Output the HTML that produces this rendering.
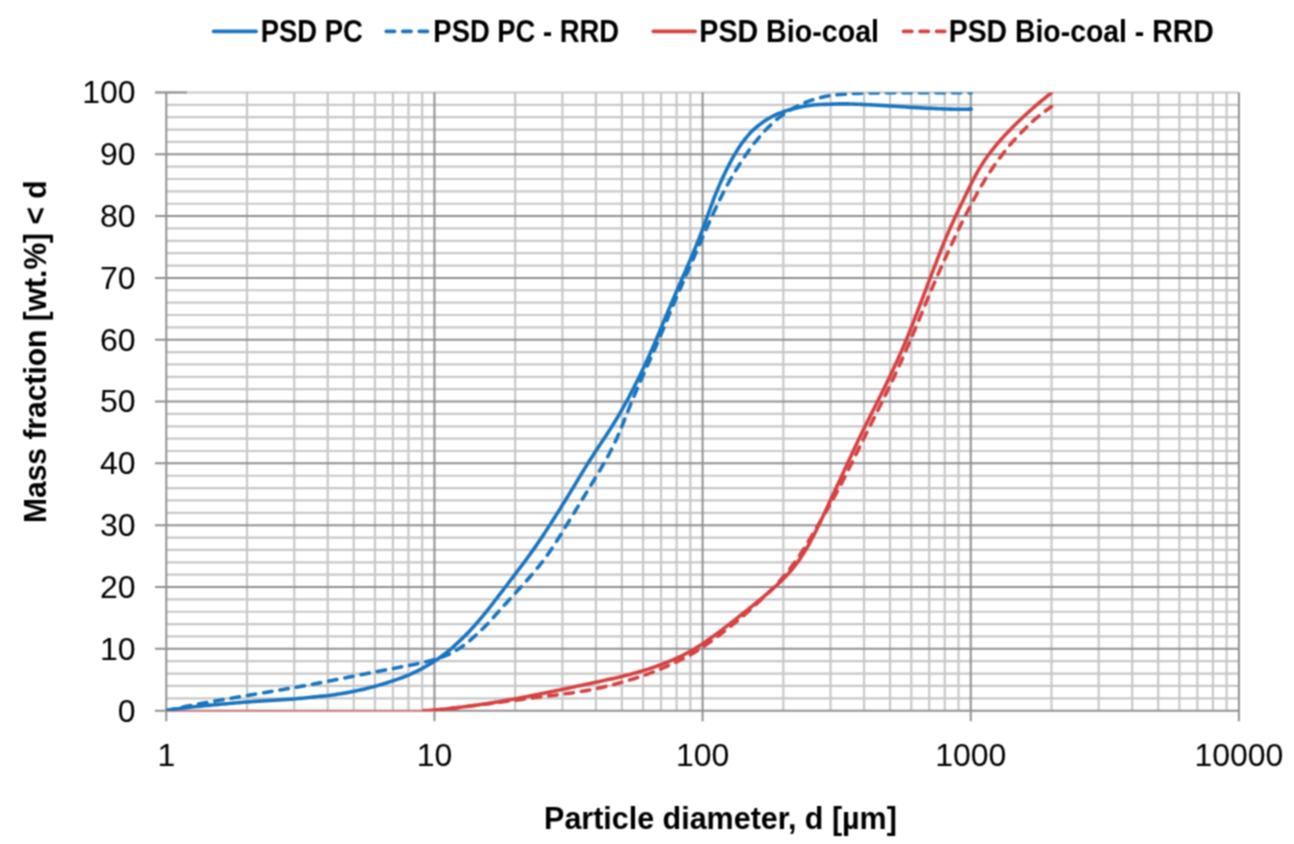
<!DOCTYPE html>
<html><head><meta charset="utf-8"><style>
html,body{margin:0;padding:0;background:#fff;}
body{width:1294px;height:844px;overflow:hidden;}
svg{display:block;}
text{font-family:"Liberation Sans",sans-serif;fill:#000;}
.n{font-size:32px;}
.b{font-size:32px;font-weight:bold;}
</style></head><body>
<svg width="1294" height="844" viewBox="0 0 1294 844">
<defs><filter id="soft" x="0" y="0" width="1294" height="844" filterUnits="userSpaceOnUse" color-interpolation-filters="sRGB"><feConvolveMatrix order="3" kernelMatrix="1 2 1 2 4 2 1 2 1" edgeMode="duplicate"/></filter><clipPath id="pa"><rect x="166.30" y="92.45" width="1072.60" height="618.30"/></clipPath></defs>
<rect width="1294" height="844" fill="#fff"/>
<g filter="url(#soft)">
<rect width="1294" height="844" fill="#fff"/>
<g>
<line x1="166.30" y1="698.29" x2="1238.90" y2="698.29" stroke="#c8c8c8" stroke-width="2.2"/>
<line x1="166.30" y1="685.92" x2="1238.90" y2="685.92" stroke="#c8c8c8" stroke-width="2.2"/>
<line x1="166.30" y1="673.56" x2="1238.90" y2="673.56" stroke="#c8c8c8" stroke-width="2.2"/>
<line x1="166.30" y1="661.19" x2="1238.90" y2="661.19" stroke="#c8c8c8" stroke-width="2.2"/>
<line x1="166.30" y1="636.47" x2="1238.90" y2="636.47" stroke="#c8c8c8" stroke-width="2.2"/>
<line x1="166.30" y1="624.10" x2="1238.90" y2="624.10" stroke="#c8c8c8" stroke-width="2.2"/>
<line x1="166.30" y1="611.74" x2="1238.90" y2="611.74" stroke="#c8c8c8" stroke-width="2.2"/>
<line x1="166.30" y1="599.37" x2="1238.90" y2="599.37" stroke="#c8c8c8" stroke-width="2.2"/>
<line x1="166.30" y1="574.65" x2="1238.90" y2="574.65" stroke="#c8c8c8" stroke-width="2.2"/>
<line x1="166.30" y1="562.28" x2="1238.90" y2="562.28" stroke="#c8c8c8" stroke-width="2.2"/>
<line x1="166.30" y1="549.92" x2="1238.90" y2="549.92" stroke="#c8c8c8" stroke-width="2.2"/>
<line x1="166.30" y1="537.55" x2="1238.90" y2="537.55" stroke="#c8c8c8" stroke-width="2.2"/>
<line x1="166.30" y1="512.83" x2="1238.90" y2="512.83" stroke="#c8c8c8" stroke-width="2.2"/>
<line x1="166.30" y1="500.46" x2="1238.90" y2="500.46" stroke="#c8c8c8" stroke-width="2.2"/>
<line x1="166.30" y1="488.10" x2="1238.90" y2="488.10" stroke="#c8c8c8" stroke-width="2.2"/>
<line x1="166.30" y1="475.73" x2="1238.90" y2="475.73" stroke="#c8c8c8" stroke-width="2.2"/>
<line x1="166.30" y1="451.01" x2="1238.90" y2="451.01" stroke="#c8c8c8" stroke-width="2.2"/>
<line x1="166.30" y1="438.64" x2="1238.90" y2="438.64" stroke="#c8c8c8" stroke-width="2.2"/>
<line x1="166.30" y1="426.28" x2="1238.90" y2="426.28" stroke="#c8c8c8" stroke-width="2.2"/>
<line x1="166.30" y1="413.91" x2="1238.90" y2="413.91" stroke="#c8c8c8" stroke-width="2.2"/>
<line x1="166.30" y1="389.19" x2="1238.90" y2="389.19" stroke="#c8c8c8" stroke-width="2.2"/>
<line x1="166.30" y1="376.82" x2="1238.90" y2="376.82" stroke="#c8c8c8" stroke-width="2.2"/>
<line x1="166.30" y1="364.46" x2="1238.90" y2="364.46" stroke="#c8c8c8" stroke-width="2.2"/>
<line x1="166.30" y1="352.09" x2="1238.90" y2="352.09" stroke="#c8c8c8" stroke-width="2.2"/>
<line x1="166.30" y1="327.37" x2="1238.90" y2="327.37" stroke="#c8c8c8" stroke-width="2.2"/>
<line x1="166.30" y1="315.00" x2="1238.90" y2="315.00" stroke="#c8c8c8" stroke-width="2.2"/>
<line x1="166.30" y1="302.64" x2="1238.90" y2="302.64" stroke="#c8c8c8" stroke-width="2.2"/>
<line x1="166.30" y1="290.27" x2="1238.90" y2="290.27" stroke="#c8c8c8" stroke-width="2.2"/>
<line x1="166.30" y1="265.55" x2="1238.90" y2="265.55" stroke="#c8c8c8" stroke-width="2.2"/>
<line x1="166.30" y1="253.18" x2="1238.90" y2="253.18" stroke="#c8c8c8" stroke-width="2.2"/>
<line x1="166.30" y1="240.82" x2="1238.90" y2="240.82" stroke="#c8c8c8" stroke-width="2.2"/>
<line x1="166.30" y1="228.45" x2="1238.90" y2="228.45" stroke="#c8c8c8" stroke-width="2.2"/>
<line x1="166.30" y1="203.73" x2="1238.90" y2="203.73" stroke="#c8c8c8" stroke-width="2.2"/>
<line x1="166.30" y1="191.36" x2="1238.90" y2="191.36" stroke="#c8c8c8" stroke-width="2.2"/>
<line x1="166.30" y1="179.00" x2="1238.90" y2="179.00" stroke="#c8c8c8" stroke-width="2.2"/>
<line x1="166.30" y1="166.63" x2="1238.90" y2="166.63" stroke="#c8c8c8" stroke-width="2.2"/>
<line x1="166.30" y1="141.91" x2="1238.90" y2="141.91" stroke="#c8c8c8" stroke-width="2.2"/>
<line x1="166.30" y1="129.54" x2="1238.90" y2="129.54" stroke="#c8c8c8" stroke-width="2.2"/>
<line x1="166.30" y1="117.18" x2="1238.90" y2="117.18" stroke="#c8c8c8" stroke-width="2.2"/>
<line x1="166.30" y1="104.81" x2="1238.90" y2="104.81" stroke="#c8c8c8" stroke-width="2.2"/>
<line x1="247.02" y1="92.45" x2="247.02" y2="710.65" stroke="#c8c8c8" stroke-width="2.2"/>
<line x1="294.24" y1="92.45" x2="294.24" y2="710.65" stroke="#c8c8c8" stroke-width="2.2"/>
<line x1="327.74" y1="92.45" x2="327.74" y2="710.65" stroke="#c8c8c8" stroke-width="2.2"/>
<line x1="353.73" y1="92.45" x2="353.73" y2="710.65" stroke="#c8c8c8" stroke-width="2.2"/>
<line x1="374.96" y1="92.45" x2="374.96" y2="710.65" stroke="#c8c8c8" stroke-width="2.2"/>
<line x1="392.91" y1="92.45" x2="392.91" y2="710.65" stroke="#c8c8c8" stroke-width="2.2"/>
<line x1="408.46" y1="92.45" x2="408.46" y2="710.65" stroke="#c8c8c8" stroke-width="2.2"/>
<line x1="422.18" y1="92.45" x2="422.18" y2="710.65" stroke="#c8c8c8" stroke-width="2.2"/>
<line x1="515.17" y1="92.45" x2="515.17" y2="710.65" stroke="#c8c8c8" stroke-width="2.2"/>
<line x1="562.39" y1="92.45" x2="562.39" y2="710.65" stroke="#c8c8c8" stroke-width="2.2"/>
<line x1="595.89" y1="92.45" x2="595.89" y2="710.65" stroke="#c8c8c8" stroke-width="2.2"/>
<line x1="621.88" y1="92.45" x2="621.88" y2="710.65" stroke="#c8c8c8" stroke-width="2.2"/>
<line x1="643.11" y1="92.45" x2="643.11" y2="710.65" stroke="#c8c8c8" stroke-width="2.2"/>
<line x1="661.06" y1="92.45" x2="661.06" y2="710.65" stroke="#c8c8c8" stroke-width="2.2"/>
<line x1="676.61" y1="92.45" x2="676.61" y2="710.65" stroke="#c8c8c8" stroke-width="2.2"/>
<line x1="690.33" y1="92.45" x2="690.33" y2="710.65" stroke="#c8c8c8" stroke-width="2.2"/>
<line x1="783.32" y1="92.45" x2="783.32" y2="710.65" stroke="#c8c8c8" stroke-width="2.2"/>
<line x1="830.54" y1="92.45" x2="830.54" y2="710.65" stroke="#c8c8c8" stroke-width="2.2"/>
<line x1="864.04" y1="92.45" x2="864.04" y2="710.65" stroke="#c8c8c8" stroke-width="2.2"/>
<line x1="890.03" y1="92.45" x2="890.03" y2="710.65" stroke="#c8c8c8" stroke-width="2.2"/>
<line x1="911.26" y1="92.45" x2="911.26" y2="710.65" stroke="#c8c8c8" stroke-width="2.2"/>
<line x1="929.21" y1="92.45" x2="929.21" y2="710.65" stroke="#c8c8c8" stroke-width="2.2"/>
<line x1="944.76" y1="92.45" x2="944.76" y2="710.65" stroke="#c8c8c8" stroke-width="2.2"/>
<line x1="958.48" y1="92.45" x2="958.48" y2="710.65" stroke="#c8c8c8" stroke-width="2.2"/>
<line x1="1051.47" y1="92.45" x2="1051.47" y2="710.65" stroke="#c8c8c8" stroke-width="2.2"/>
<line x1="1098.69" y1="92.45" x2="1098.69" y2="710.65" stroke="#c8c8c8" stroke-width="2.2"/>
<line x1="1132.19" y1="92.45" x2="1132.19" y2="710.65" stroke="#c8c8c8" stroke-width="2.2"/>
<line x1="1158.18" y1="92.45" x2="1158.18" y2="710.65" stroke="#c8c8c8" stroke-width="2.2"/>
<line x1="1179.41" y1="92.45" x2="1179.41" y2="710.65" stroke="#c8c8c8" stroke-width="2.2"/>
<line x1="1197.36" y1="92.45" x2="1197.36" y2="710.65" stroke="#c8c8c8" stroke-width="2.2"/>
<line x1="1212.91" y1="92.45" x2="1212.91" y2="710.65" stroke="#c8c8c8" stroke-width="2.2"/>
<line x1="1226.63" y1="92.45" x2="1226.63" y2="710.65" stroke="#c8c8c8" stroke-width="2.2"/>
<line x1="155.00" y1="648.83" x2="1238.90" y2="648.83" stroke="#909090" stroke-width="2.0"/>
<line x1="155.00" y1="587.01" x2="1238.90" y2="587.01" stroke="#909090" stroke-width="2.0"/>
<line x1="155.00" y1="525.19" x2="1238.90" y2="525.19" stroke="#909090" stroke-width="2.0"/>
<line x1="155.00" y1="463.37" x2="1238.90" y2="463.37" stroke="#909090" stroke-width="2.0"/>
<line x1="155.00" y1="401.55" x2="1238.90" y2="401.55" stroke="#909090" stroke-width="2.0"/>
<line x1="155.00" y1="339.73" x2="1238.90" y2="339.73" stroke="#909090" stroke-width="2.0"/>
<line x1="155.00" y1="277.91" x2="1238.90" y2="277.91" stroke="#909090" stroke-width="2.0"/>
<line x1="155.00" y1="216.09" x2="1238.90" y2="216.09" stroke="#909090" stroke-width="2.0"/>
<line x1="155.00" y1="154.27" x2="1238.90" y2="154.27" stroke="#909090" stroke-width="2.0"/>
<line x1="155.00" y1="92.45" x2="1238.90" y2="92.45" stroke="#c8c8c8" stroke-width="2.0"/>
<line x1="155.00" y1="92.45" x2="187" y2="92.45" stroke="#909090" stroke-width="2.0"/>
<line x1="434.45" y1="92.45" x2="434.45" y2="721.35" stroke="#909090" stroke-width="2.0"/>
<line x1="702.60" y1="92.45" x2="702.60" y2="721.35" stroke="#909090" stroke-width="2.0"/>
<line x1="970.75" y1="92.45" x2="970.75" y2="721.35" stroke="#909090" stroke-width="2.0"/>
<line x1="1238.90" y1="92.45" x2="1238.90" y2="721.35" stroke="#909090" stroke-width="2.0"/>
<line x1="166.30" y1="92.45" x2="166.30" y2="721.35" stroke="#909090" stroke-width="2.0"/>
<line x1="155.00" y1="710.65" x2="1238.90" y2="710.65" stroke="#909090" stroke-width="2.0"/>
<line x1="166.3" y1="710.95" x2="432" y2="710.95" stroke="#d08888" stroke-width="2.2"/>
</g>
<g clip-path="url(#pa)"><g transform="translate(0,0.35)">
<path d="M166.30,710.30 L168.29,709.87 L170.27,709.43 L172.23,709.00 L174.19,708.57 L176.16,708.14 L178.14,707.70 L180.14,707.27 L182.17,706.84 L184.24,706.41 L186.36,705.98 L188.25,705.61 L190.15,705.24 L192.08,704.87 L194.03,704.50 L196.00,704.13 L197.99,703.77 L200.00,703.40 L202.04,703.03 L204.09,702.66 L206.17,702.29 L208.27,701.91 L210.39,701.54 L212.53,701.15 L214.44,700.81 L216.40,700.46 L218.39,700.11 L220.43,699.75 L222.48,699.39 L224.56,699.03 L226.66,698.66 L228.76,698.30 L230.86,697.93 L232.96,697.57 L235.05,697.21 L237.12,696.86 L239.16,696.51 L241.18,696.16 L243.15,695.82 L245.09,695.49 L246.98,695.17 L249.18,694.80 L251.35,694.44 L253.47,694.09 L255.57,693.74 L257.63,693.41 L259.67,693.07 L261.70,692.74 L263.70,692.41 L265.70,692.08 L267.69,691.76 L269.69,691.42 L271.68,691.09 L273.72,690.74 L275.74,690.40 L277.73,690.07 L279.70,689.73 L281.67,689.40 L283.63,689.06 L285.61,688.72 L287.59,688.38 L289.60,688.03 L291.63,687.67 L293.70,687.30 L295.69,686.95 L297.78,686.58 L299.94,686.19 L302.14,685.79 L304.37,685.39 L306.60,684.98 L308.80,684.58 L310.94,684.19 L313.01,683.80 L314.97,683.44 L316.80,683.10 L318.48,682.78 L319.98,682.50 L322.63,681.98 L324.77,681.55 L327.40,681.02 L328.89,680.73 L330.54,680.40 L332.35,680.05 L334.28,679.67 L336.31,679.27 L338.42,678.86 L340.57,678.44 L342.76,678.01 L344.94,677.59 L347.10,677.16 L349.21,676.75 L351.25,676.35 L353.19,675.96 L355.39,675.53 L357.56,675.10 L359.71,674.67 L361.84,674.25 L363.94,673.83 L366.03,673.41 L368.10,673.00 L370.16,672.59 L372.20,672.18 L374.24,671.78 L376.32,671.37 L378.38,670.97 L380.43,670.57 L382.47,670.17 L384.48,669.77 L386.48,669.39 L388.47,669.00 L390.44,668.62 L392.39,668.24 L394.70,667.80 L396.99,667.37 L399.25,666.94 L401.49,666.52 L403.71,666.10 L405.92,665.68 L408.10,665.25 L410.15,664.85 L412.18,664.45 L414.19,664.05 L416.18,663.65 L418.16,663.24 L420.11,662.82 L422.04,662.39 L424.10,661.91 L426.12,661.43 L428.12,660.93 L430.10,660.41 L432.10,659.86 L434.14,659.26 L436.05,658.66 L437.99,658.04 L439.96,657.39 L441.92,656.71 L443.86,655.99 L445.77,655.24 L447.62,654.45 L449.60,653.53 L451.54,652.56 L453.43,651.55 L455.30,650.50 L457.14,649.40 L458.96,648.26 L460.75,647.09 L462.47,645.91 L464.16,644.68 L465.88,643.38 L467.65,641.97 L469.51,640.44 L470.98,639.20 L472.52,637.85 L474.13,636.42 L475.77,634.92 L477.45,633.37 L479.12,631.79 L480.79,630.20 L482.43,628.62 L484.02,627.06 L485.55,625.55 L486.99,624.09 L488.56,622.46 L490.07,620.85 L491.51,619.26 L492.91,617.69 L494.28,616.13 L495.65,614.57 L497.02,613.02 L498.41,611.45 L499.79,609.93 L501.15,608.40 L502.51,606.89 L503.86,605.37 L505.22,603.86 L506.58,602.34 L507.95,600.82 L509.32,599.30 L510.74,597.75 L512.17,596.20 L513.60,594.64 L515.04,593.09 L516.48,591.53 L517.92,589.97 L519.35,588.40 L520.77,586.84 L522.19,585.26 L523.61,583.69 L525.03,582.11 L526.44,580.53 L527.84,578.94 L529.24,577.36 L530.62,575.77 L531.98,574.18 L533.29,572.63 L534.60,571.08 L535.90,569.53 L537.19,567.98 L538.46,566.42 L539.71,564.86 L540.95,563.31 L542.16,561.74 L543.46,560.03 L544.74,558.31 L546.00,556.59 L547.23,554.86 L548.45,553.13 L549.65,551.40 L550.85,549.65 L552.02,547.92 L553.18,546.17 L554.31,544.42 L555.44,542.66 L556.56,540.90 L557.68,539.14 L558.79,537.37 L559.90,535.61 L560.99,533.85 L562.08,532.08 L563.17,530.30 L564.25,528.53 L565.34,526.75 L566.43,524.98 L567.53,523.19 L568.63,521.41 L569.74,519.62 L570.85,517.83 L571.96,516.04 L573.06,514.25 L574.15,512.47 L575.22,510.70 L576.29,508.94 L577.36,507.18 L578.42,505.42 L579.48,503.66 L580.54,501.90 L581.61,500.15 L582.68,498.39 L583.75,496.63 L584.82,494.88 L585.89,493.12 L586.96,491.37 L588.03,489.61 L589.10,487.86 L590.16,486.11 L591.21,484.36 L592.27,482.61 L593.32,480.87 L594.37,479.12 L595.42,477.36 L596.47,475.60 L597.54,473.81 L598.61,472.02 L599.68,470.23 L600.75,468.43 L601.81,466.63 L602.86,464.83 L603.90,463.03 L604.90,461.26 L605.90,459.49 L606.89,457.73 L607.86,455.96 L608.82,454.19 L609.77,452.42 L610.69,450.64 L611.73,448.60 L612.75,446.55 L613.74,444.50 L614.72,442.45 L615.68,440.39 L616.62,438.33 L617.53,436.29 L618.41,434.24 L619.28,432.19 L620.14,430.14 L620.99,428.08 L621.84,426.02 L622.68,423.97 L623.51,421.92 L624.33,419.86 L625.16,417.80 L625.98,415.74 L626.80,413.68 L627.62,411.62 L628.45,409.55 L629.27,407.48 L630.09,405.41 L630.92,403.35 L631.76,401.28 L632.61,399.21 L633.46,397.14 L634.33,395.07 L635.19,393.00 L636.07,390.94 L636.95,388.88 L637.83,386.83 L638.72,384.80 L639.61,382.76 L640.51,380.73 L641.42,378.69 L642.32,376.65 L643.24,374.59 L644.16,372.52 L645.09,370.45 L646.02,368.38 L646.95,366.31 L647.87,364.23 L648.80,362.15 L649.73,360.06 L650.66,357.97 L651.59,355.89 L652.51,353.80 L653.43,351.72 L654.33,349.68 L655.22,347.63 L656.10,345.60 L656.98,343.56 L657.86,341.52 L658.73,339.47 L659.60,337.42 L660.46,335.36 L661.32,333.31 L662.18,331.25 L663.03,329.19 L663.88,327.14 L664.73,325.08 L665.57,323.03 L666.41,320.98 L667.25,318.93 L668.09,316.87 L668.94,314.82 L669.80,312.75 L670.67,310.68 L671.54,308.60 L672.42,306.53 L673.30,304.46 L674.18,302.39 L675.06,300.32 L675.95,298.26 L676.84,296.19 L677.73,294.13 L678.63,292.07 L679.52,290.01 L680.41,287.95 L681.30,285.90 L682.20,283.85 L683.09,281.80 L683.99,279.75 L684.89,277.69 L685.79,275.63 L686.69,273.57 L687.60,271.50 L688.50,269.43 L689.41,267.37 L690.31,265.30 L691.21,263.25 L692.10,261.20 L692.99,259.15 L693.88,257.09 L694.78,255.04 L695.67,252.99 L696.56,250.92 L697.46,248.85 L698.35,246.78 L699.24,244.71 L700.14,242.64 L701.04,240.57 L701.94,238.51 L702.84,236.46 L703.75,234.40 L704.66,232.34 L705.56,230.29 L706.48,228.23 L707.39,226.18 L708.30,224.12 L709.22,222.06 L710.14,220.01 L711.06,217.95 L711.99,215.89 L712.94,213.82 L713.90,211.74 L714.86,209.66 L715.83,207.58 L716.80,205.51 L717.79,203.44 L718.77,201.39 L719.76,199.35 L720.76,197.31 L721.77,195.28 L722.80,193.24 L723.84,191.21 L724.77,189.44 L725.71,187.67 L726.66,185.90 L727.62,184.13 L728.59,182.36 L729.58,180.60 L730.58,178.84 L731.61,177.06 L732.65,175.28 L733.70,173.51 L734.77,171.73 L735.85,169.96 L736.94,168.19 L738.04,166.43 L739.18,164.63 L740.32,162.82 L741.48,161.02 L742.65,159.23 L743.83,157.43 L745.04,155.65 L746.26,153.87 L747.51,152.08 L748.78,150.30 L750.06,148.52 L751.36,146.75 L752.68,144.99 L754.03,143.24 L755.40,141.50 L756.64,139.96 L757.90,138.43 L759.16,136.91 L760.45,135.40 L761.76,133.89 L763.11,132.39 L764.49,130.90 L765.92,129.41 L767.33,127.97 L768.76,126.53 L770.23,125.09 L771.72,123.65 L773.25,122.23 L774.82,120.82 L776.43,119.44 L778.09,118.08 L779.79,116.76 L781.37,115.59 L783.01,114.42 L784.70,113.26 L786.44,112.11 L788.21,110.98 L789.99,109.88 L791.78,108.81 L793.56,107.78 L795.32,106.80 L797.05,105.87 L798.74,105.01 L800.68,104.07 L802.59,103.20 L804.48,102.41 L806.36,101.66 L808.23,100.97 L810.12,100.31 L812.02,99.68 L813.96,99.06 L815.96,98.47 L817.96,97.91 L819.99,97.38 L822.02,96.89 L824.07,96.43 L826.14,96.01 L828.21,95.62 L830.30,95.26 L832.47,94.93 L834.68,94.65 L836.90,94.41 L839.13,94.20 L841.37,94.02 L843.59,93.86 L845.78,93.70 L847.95,93.55 L850.22,93.40 L852.47,93.27 L854.69,93.16 L856.90,93.07 L859.11,92.99 L861.34,92.91 L863.58,92.84 L865.60,92.77 L867.62,92.72 L869.64,92.67 L871.66,92.63 L873.70,92.59 L875.77,92.56 L877.86,92.53 L880.00,92.50 L881.92,92.47 L883.87,92.45 L885.85,92.43 L887.85,92.41 L889.87,92.39 L891.90,92.38 L893.94,92.37 L895.97,92.36 L897.99,92.35 L900.00,92.33 L902.00,92.32 L904.00,92.31 L906.00,92.31 L908.00,92.30 L910.00,92.29 L912.00,92.29 L914.00,92.28 L916.00,92.28 L918.00,92.28 L920.00,92.27 L922.00,92.27 L924.00,92.27 L926.00,92.27 L928.00,92.27 L930.00,92.27 L932.00,92.27 L934.00,92.27 L936.00,92.28 L938.00,92.28 L940.00,92.28 L942.03,92.28 L944.09,92.28 L946.18,92.28 L948.27,92.28 L950.35,92.29 L952.41,92.29 L954.42,92.29 L956.36,92.29 L958.23,92.29 L960.00,92.30 L962.47,92.30 L964.75,92.30 L966.93,92.30 L969.09,92.30 L971.30,92.30" fill="none" stroke="#1a75bf" stroke-width="3.6" stroke-linecap="round" stroke-linejoin="round" stroke-dasharray="8.4 8.1"/>
<path d="M166.30,710.30 L168.29,710.00 L170.27,709.70 L172.23,709.39 L174.19,709.09 L176.15,708.78 L178.13,708.48 L180.13,708.18 L182.16,707.89 L184.23,707.61 L186.35,707.33 L188.23,707.10 L190.14,706.87 L192.07,706.65 L194.02,706.43 L195.99,706.22 L197.98,706.01 L199.99,705.81 L202.03,705.61 L204.08,705.40 L206.16,705.20 L208.26,705.00 L210.38,704.80 L212.52,704.60 L214.43,704.42 L216.39,704.24 L218.39,704.06 L220.42,703.87 L222.48,703.69 L224.56,703.51 L226.65,703.32 L228.76,703.14 L230.86,702.97 L232.96,702.79 L235.05,702.62 L237.12,702.45 L239.16,702.28 L241.18,702.12 L243.16,701.96 L245.09,701.81 L246.98,701.67 L249.19,701.50 L251.35,701.35 L253.48,701.20 L255.57,701.06 L257.64,700.92 L259.68,700.78 L261.70,700.65 L263.71,700.53 L265.70,700.40 L267.70,700.27 L269.69,700.14 L271.69,700.01 L273.73,699.88 L275.74,699.75 L277.73,699.63 L279.71,699.52 L281.68,699.40 L283.65,699.28 L285.62,699.16 L287.61,699.03 L289.62,698.89 L291.65,698.74 L293.72,698.58 L295.70,698.41 L297.79,698.23 L299.94,698.03 L302.14,697.83 L304.36,697.61 L306.58,697.39 L308.77,697.17 L310.91,696.96 L312.96,696.75 L314.92,696.55 L316.75,696.36 L318.43,696.20 L319.93,696.05 L322.61,695.81 L324.77,695.63 L327.43,695.32 L328.92,695.13 L330.59,694.90 L332.40,694.63 L334.34,694.35 L336.38,694.04 L338.50,693.71 L340.66,693.36 L342.85,693.00 L345.04,692.63 L347.20,692.26 L349.31,691.88 L351.35,691.50 L353.28,691.12 L355.47,690.67 L357.63,690.22 L359.76,689.75 L361.87,689.27 L363.96,688.78 L366.02,688.28 L368.07,687.77 L370.10,687.25 L372.12,686.72 L374.13,686.18 L376.22,685.61 L378.30,685.02 L380.35,684.42 L382.39,683.82 L384.41,683.20 L386.42,682.57 L388.41,681.94 L390.38,681.29 L392.33,680.65 L394.39,679.95 L396.43,679.26 L398.45,678.55 L400.45,677.84 L402.43,677.12 L404.39,676.37 L406.32,675.61 L408.23,674.82 L410.26,673.94 L412.26,673.04 L414.23,672.12 L416.17,671.18 L418.09,670.22 L419.99,669.24 L421.87,668.25 L423.65,667.29 L425.38,666.33 L427.10,665.35 L428.80,664.35 L430.50,663.32 L432.22,662.25 L433.95,661.14 L435.66,660.02 L437.39,658.85 L439.14,657.65 L440.89,656.41 L442.63,655.15 L444.35,653.88 L446.04,652.59 L447.67,651.31 L449.40,649.89 L451.08,648.46 L452.73,647.01 L454.35,645.54 L455.96,644.07 L457.55,642.58 L459.14,641.08 L460.74,639.56 L462.35,637.99 L463.96,636.41 L465.54,634.83 L467.07,633.28 L468.52,631.79 L469.87,630.39 L471.46,628.70 L472.87,627.15 L474.27,625.58 L475.82,623.82 L477.01,622.45 L478.28,620.99 L479.61,619.44 L480.99,617.84 L482.37,616.20 L483.75,614.55 L485.10,612.92 L486.40,611.33 L487.78,609.60 L489.14,607.87 L490.48,606.13 L491.80,604.40 L493.12,602.66 L494.45,600.91 L495.79,599.17 L497.16,597.39 L498.54,595.60 L499.92,593.81 L501.31,592.01 L502.69,590.22 L504.06,588.43 L505.42,586.65 L506.75,584.90 L508.07,583.16 L509.38,581.43 L510.68,579.69 L511.99,577.96 L513.31,576.22 L514.63,574.47 L515.98,572.69 L517.35,570.91 L518.72,569.13 L520.10,567.34 L521.46,565.55 L522.82,563.76 L524.16,561.96 L525.47,560.19 L526.77,558.41 L528.07,556.63 L529.35,554.85 L530.63,553.06 L531.90,551.28 L533.16,549.50 L534.40,547.75 L535.63,546.00 L536.86,544.24 L538.08,542.49 L539.29,540.74 L540.48,538.98 L541.67,537.22 L542.83,535.49 L543.97,533.75 L545.10,532.01 L546.22,530.27 L547.34,528.52 L548.46,526.78 L549.59,525.02 L550.73,523.25 L551.87,521.46 L553.01,519.68 L554.14,517.89 L555.28,516.10 L556.41,514.31 L557.54,512.52 L558.65,510.76 L559.76,508.99 L560.86,507.23 L561.96,505.47 L563.06,503.70 L564.16,501.94 L565.25,500.17 L566.35,498.39 L567.44,496.62 L568.53,494.83 L569.62,493.05 L570.70,491.27 L571.78,489.49 L572.86,487.71 L573.92,485.96 L574.96,484.22 L576.01,482.47 L577.05,480.73 L578.10,478.99 L579.15,477.24 L580.20,475.50 L581.27,473.75 L582.34,472.00 L583.41,470.26 L584.48,468.51 L585.57,466.76 L586.66,465.01 L587.75,463.26 L588.88,461.47 L590.02,459.67 L591.17,457.87 L592.32,456.07 L593.48,454.28 L594.63,452.48 L595.79,450.70 L596.95,448.92 L598.11,447.16 L599.27,445.40 L600.44,443.64 L601.61,441.88 L602.77,440.12 L603.93,438.35 L605.09,436.59 L606.25,434.83 L607.42,433.07 L608.57,431.30 L609.72,429.54 L610.87,427.77 L611.99,425.99 L613.10,424.23 L614.20,422.46 L615.30,420.69 L616.38,418.91 L617.45,417.13 L618.52,415.36 L619.57,413.58 L620.59,411.82 L621.60,410.07 L622.60,408.31 L623.60,406.55 L624.58,404.79 L625.55,403.03 L626.52,401.26 L627.62,399.21 L628.72,397.15 L629.80,395.09 L630.87,393.02 L631.93,390.96 L632.99,388.90 L634.03,386.86 L635.06,384.82 L636.09,382.79 L637.11,380.75 L638.12,378.71 L639.12,376.66 L640.13,374.60 L641.13,372.53 L642.12,370.46 L643.10,368.38 L644.08,366.31 L645.05,364.23 L646.02,362.14 L646.99,360.05 L647.94,357.96 L648.89,355.87 L649.84,353.78 L650.77,351.70 L651.67,349.66 L652.56,347.64 L653.44,345.61 L654.32,343.59 L655.20,341.56 L656.07,339.53 L656.95,337.47 L657.82,335.41 L658.69,333.34 L659.55,331.27 L660.42,329.20 L661.28,327.14 L662.13,325.08 L662.98,323.02 L663.83,320.97 L664.68,318.91 L665.54,316.85 L666.40,314.80 L667.27,312.73 L668.15,310.66 L669.03,308.60 L669.92,306.53 L670.80,304.46 L671.69,302.39 L672.57,300.33 L673.46,298.26 L674.35,296.19 L675.23,294.13 L676.12,292.07 L677.01,290.00 L677.89,287.95 L678.78,285.90 L679.66,283.86 L680.55,281.81 L681.44,279.76 L682.33,277.71 L683.22,275.65 L684.13,273.58 L685.03,271.51 L685.93,269.44 L686.83,267.38 L687.73,265.31 L688.61,263.26 L689.50,261.21 L690.38,259.16 L691.26,257.11 L692.13,255.06 L693.00,253.00 L693.86,250.93 L694.72,248.86 L695.57,246.78 L696.42,244.71 L697.26,242.63 L698.09,240.56 L698.91,238.50 L699.72,236.44 L700.52,234.38 L701.32,232.32 L702.10,230.26 L702.89,228.20 L703.65,226.15 L704.41,224.10 L705.16,222.05 L705.91,220.01 L706.66,217.96 L707.41,215.90 L708.16,213.83 L708.90,211.76 L709.65,209.68 L710.39,207.60 L711.15,205.53 L711.91,203.46 L712.68,201.41 L713.45,199.36 L714.23,197.32 L715.02,195.29 L715.83,193.25 L716.66,191.21 L717.51,189.15 L718.39,187.09 L719.28,185.03 L720.18,182.97 L721.10,180.92 L722.04,178.86 L723.00,176.76 L723.98,174.67 L724.98,172.57 L725.99,170.47 L727.02,168.38 L728.07,166.30 L729.00,164.50 L729.93,162.70 L730.88,160.90 L731.85,159.10 L732.83,157.32 L733.84,155.54 L734.88,153.78 L735.95,152.00 L737.03,150.22 L738.13,148.46 L739.27,146.70 L740.43,144.96 L741.65,143.23 L742.91,141.51 L744.11,139.94 L745.33,138.38 L746.59,136.82 L747.88,135.27 L749.21,133.74 L750.60,132.23 L752.05,130.75 L753.56,129.31 L755.12,127.91 L756.78,126.51 L758.50,125.12 L760.27,123.76 L762.08,122.43 L763.91,121.15 L765.73,119.93 L767.54,118.78 L769.30,117.71 L771.23,116.62 L773.11,115.63 L774.97,114.72 L776.86,113.88 L778.81,113.07 L780.86,112.28 L783.05,111.50 L784.78,110.90 L786.61,110.31 L788.50,109.73 L790.46,109.15 L792.46,108.59 L794.51,108.05 L796.57,107.53 L798.65,107.04 L800.74,106.58 L802.81,106.15 L804.86,105.77 L806.87,105.43 L809.02,105.11 L811.19,104.85 L813.38,104.64 L815.57,104.47 L817.76,104.33 L819.95,104.22 L822.11,104.13 L824.25,104.05 L826.36,103.98 L828.42,103.90 L830.44,103.83 L832.75,103.74 L835.02,103.67 L837.23,103.61 L839.41,103.57 L841.57,103.55 L843.70,103.54 L845.82,103.54 L847.95,103.56 L850.19,103.60 L852.36,103.66 L854.49,103.75 L856.64,103.84 L858.84,103.95 L861.14,104.06 L863.59,104.18 L865.43,104.27 L867.36,104.36 L869.37,104.46 L871.44,104.56 L873.55,104.67 L875.70,104.78 L877.87,104.90 L880.05,105.01 L882.21,105.13 L884.35,105.25 L886.46,105.37 L888.51,105.48 L890.49,105.60 L892.74,105.74 L894.95,105.88 L897.13,106.02 L899.29,106.16 L901.43,106.31 L903.54,106.45 L905.63,106.59 L907.71,106.73 L909.76,106.86 L911.81,106.99 L914.12,107.13 L916.41,107.26 L918.67,107.39 L920.90,107.51 L923.11,107.63 L925.30,107.74 L927.47,107.85 L929.61,107.96 L931.82,108.07 L934.00,108.18 L936.15,108.28 L938.28,108.38 L940.39,108.47 L942.50,108.56 L944.60,108.63 L946.95,108.69 L949.29,108.75 L951.62,108.80 L953.93,108.83 L956.22,108.86 L958.50,108.88 L960.66,108.88 L962.80,108.88 L964.93,108.86 L967.05,108.84 L969.17,108.82 L971.30,108.80" fill="none" stroke="#1a75bf" stroke-width="3.6" stroke-linecap="round" stroke-linejoin="round"/>
<path d="M434.20,710.30 L436.20,710.05 L438.19,709.80 L440.17,709.56 L442.14,709.31 L444.12,709.07 L446.11,708.82 L448.10,708.57 L450.11,708.32 L452.14,708.06 L454.19,707.80 L456.27,707.54 L458.20,707.29 L460.15,707.04 L462.11,706.78 L464.08,706.52 L466.07,706.26 L468.06,705.99 L470.08,705.73 L472.11,705.46 L474.15,705.19 L476.22,704.92 L478.30,704.64 L480.39,704.37 L482.51,704.09 L484.46,703.84 L486.44,703.59 L488.45,703.33 L490.49,703.06 L492.55,702.80 L494.63,702.54 L496.71,702.27 L498.80,702.00 L500.89,701.74 L502.98,701.47 L505.05,701.20 L507.12,700.94 L509.16,700.68 L511.17,700.42 L513.16,700.16 L515.11,699.91 L517.26,699.63 L519.39,699.36 L521.50,699.08 L523.60,698.81 L525.69,698.53 L527.75,698.26 L529.80,697.99 L531.84,697.73 L533.85,697.46 L535.84,697.20 L537.81,696.95 L539.76,696.69 L541.69,696.44 L543.88,696.16 L546.02,695.89 L548.14,695.62 L550.24,695.36 L552.31,695.10 L554.36,694.84 L556.39,694.58 L558.40,694.33 L560.40,694.07 L562.39,693.80 L564.67,693.50 L566.91,693.20 L569.13,692.91 L571.33,692.61 L573.51,692.31 L575.69,691.99 L577.86,691.67 L580.03,691.32 L582.12,690.98 L584.18,690.63 L586.21,690.28 L588.24,689.91 L590.29,689.53 L592.38,689.12 L594.54,688.67 L596.79,688.19 L598.71,687.76 L600.71,687.31 L602.76,686.83 L604.86,686.33 L606.99,685.80 L609.15,685.27 L611.31,684.72 L613.47,684.16 L615.62,683.60 L617.75,683.03 L619.83,682.46 L621.86,681.89 L623.91,681.32 L625.94,680.73 L627.96,680.14 L629.96,679.54 L631.95,678.93 L633.93,678.32 L635.88,677.70 L637.82,677.07 L639.73,676.44 L641.63,675.81 L643.50,675.17 L645.56,674.45 L647.59,673.72 L649.60,672.99 L651.58,672.25 L653.54,671.51 L655.48,670.75 L657.40,669.99 L659.30,669.22 L661.19,668.44 L663.18,667.60 L665.15,666.75 L667.10,665.89 L669.02,665.01 L670.93,664.14 L672.82,663.25 L674.69,662.37 L676.55,661.48 L678.54,660.52 L680.51,659.56 L682.46,658.60 L684.39,657.63 L686.30,656.64 L688.19,655.63 L690.06,654.60 L691.85,653.58 L693.60,652.54 L695.32,651.50 L697.03,650.43 L698.76,649.32 L700.52,648.17 L702.33,646.97 L704.02,645.83 L705.74,644.64 L707.50,643.40 L709.28,642.13 L711.07,640.84 L712.86,639.53 L714.64,638.22 L716.40,636.91 L718.14,635.61 L719.83,634.34 L721.51,633.05 L723.18,631.76 L724.85,630.47 L726.51,629.17 L728.16,627.86 L729.80,626.55 L731.45,625.23 L733.08,623.90 L734.71,622.57 L736.34,621.24 L737.96,619.90 L739.58,618.55 L741.19,617.19 L742.80,615.83 L744.39,614.46 L745.98,613.09 L747.55,611.71 L749.11,610.33 L750.66,608.94 L752.20,607.54 L753.74,606.13 L755.26,604.72 L756.78,603.31 L758.29,601.89 L759.79,600.47 L761.28,599.06 L762.93,597.50 L764.57,595.94 L766.20,594.38 L767.82,592.81 L769.43,591.25 L771.02,589.67 L772.59,588.10 L774.12,586.52 L775.58,585.00 L777.02,583.48 L778.44,581.96 L779.84,580.43 L781.22,578.90 L782.58,577.36 L783.92,575.81 L785.24,574.26 L786.67,572.53 L788.08,570.80 L789.46,569.05 L790.82,567.30 L792.15,565.55 L793.47,563.78 L794.77,562.00 L796.02,560.25 L797.25,558.48 L798.46,556.71 L799.65,554.93 L800.83,553.15 L801.99,551.36 L803.14,549.58 L804.25,547.84 L805.34,546.09 L806.41,544.34 L807.47,542.59 L808.52,540.84 L809.57,539.08 L810.63,537.33 L811.68,535.57 L812.73,533.81 L813.78,532.05 L814.82,530.28 L815.86,528.52 L816.90,526.75 L817.94,524.98 L818.97,523.21 L820.01,521.45 L821.04,519.68 L822.07,517.91 L823.09,516.13 L824.12,514.36 L825.14,512.58 L826.17,510.80 L827.19,509.01 L828.22,507.22 L829.24,505.43 L830.26,503.64 L831.27,501.85 L832.27,500.07 L833.41,498.02 L834.55,495.98 L835.67,493.93 L836.79,491.89 L837.90,489.85 L839.00,487.80 L840.09,485.76 L841.16,483.73 L842.23,481.69 L843.28,479.65 L844.33,477.60 L845.38,475.55 L846.42,473.47 L847.45,471.40 L848.47,469.31 L849.49,467.23 L850.51,465.14 L851.53,463.07 L852.55,461.00 L853.56,458.94 L854.58,456.88 L855.59,454.82 L856.61,452.77 L857.62,450.71 L858.63,448.66 L859.63,446.62 L860.63,444.57 L861.64,442.52 L862.64,440.48 L863.65,438.43 L864.67,436.36 L865.70,434.29 L866.72,432.22 L867.75,430.14 L868.78,428.07 L869.81,426.00 L870.84,423.94 L871.88,421.87 L872.91,419.80 L873.95,417.74 L874.99,415.67 L876.02,413.61 L877.05,411.55 L878.07,409.50 L879.10,407.45 L880.12,405.39 L881.14,403.34 L882.16,401.28 L883.17,399.22 L884.18,397.15 L885.19,395.09 L886.20,393.02 L887.20,390.96 L888.19,388.90 L889.17,386.85 L890.15,384.80 L891.12,382.75 L892.08,380.71 L893.04,378.66 L894.00,376.60 L894.96,374.54 L895.91,372.47 L896.86,370.41 L897.81,368.34 L898.75,366.27 L899.69,364.20 L900.62,362.13 L901.55,360.07 L902.48,358.00 L903.39,355.94 L904.31,353.87 L905.22,351.81 L906.12,349.76 L907.02,347.70 L907.91,345.65 L908.80,343.60 L909.68,341.54 L910.57,339.49 L911.45,337.42 L912.32,335.36 L913.20,333.30 L914.07,331.23 L914.94,329.16 L915.80,327.10 L916.66,325.05 L917.51,323.00 L918.36,320.95 L919.20,318.90 L920.05,316.85 L920.89,314.80 L921.74,312.73 L922.59,310.67 L923.43,308.60 L924.28,306.53 L925.13,304.46 L925.98,302.39 L926.84,300.33 L927.69,298.26 L928.55,296.20 L929.41,294.14 L930.28,292.08 L931.14,290.02 L932.01,287.96 L932.89,285.91 L933.76,283.86 L934.64,281.81 L935.53,279.76 L936.42,277.71 L937.32,275.64 L938.23,273.57 L939.14,271.50 L940.06,269.43 L940.98,267.36 L941.90,265.30 L942.82,263.24 L943.75,261.19 L944.67,259.14 L945.60,257.09 L946.54,255.04 L947.47,252.99 L948.41,250.92 L949.36,248.85 L950.31,246.79 L951.26,244.72 L952.22,242.65 L953.17,240.59 L954.13,238.52 L955.09,236.45 L956.05,234.38 L957.02,232.31 L958.00,230.24 L958.98,228.19 L959.97,226.13 L960.97,224.09 L961.98,222.05 L962.99,220.00 L964.01,217.96 L965.05,215.92 L966.10,213.86 L967.17,211.80 L968.24,209.74 L969.33,207.68 L970.42,205.62 L971.51,203.56 L972.46,201.78 L973.41,199.99 L974.37,198.19 L975.33,196.40 L976.30,194.62 L977.28,192.83 L978.26,191.05 L979.26,189.28 L980.25,187.50 L981.25,185.73 L982.26,183.96 L983.28,182.20 L984.32,180.45 L985.38,178.70 L986.46,176.96 L987.55,175.22 L988.65,173.50 L989.77,171.78 L990.91,170.06 L992.06,168.34 L993.24,166.62 L994.48,164.84 L995.73,163.07 L997.01,161.29 L998.31,159.52 L999.63,157.74 L1000.96,155.97 L1002.32,154.20 L1003.56,152.58 L1004.83,150.96 L1006.11,149.33 L1007.40,147.71 L1008.71,146.09 L1010.03,144.48 L1011.37,142.89 L1012.72,141.33 L1014.08,139.79 L1015.46,138.28 L1016.84,136.78 L1018.24,135.29 L1019.66,133.82 L1021.09,132.35 L1022.54,130.88 L1024.01,129.41 L1025.53,127.90 L1027.06,126.38 L1028.61,124.87 L1030.17,123.36 L1031.76,121.86 L1033.37,120.38 L1035.01,118.91 L1036.68,117.47 L1038.25,116.16 L1039.86,114.87 L1041.49,113.60 L1043.15,112.35 L1044.82,111.10 L1046.50,109.85 L1048.17,108.61 L1049.84,107.36 L1051.50,106.10" fill="none" stroke="#d64242" stroke-width="3.6" stroke-linecap="round" stroke-linejoin="round" stroke-dasharray="8.4 8.1"/>
<path d="M424.00,710.30 L426.45,710.22 L428.99,710.11 L431.11,709.96 L433.35,709.77 L436.00,709.53 L437.59,709.38 L439.34,709.21 L441.23,709.02 L443.23,708.82 L445.32,708.60 L447.48,708.37 L449.68,708.14 L451.89,707.89 L454.10,707.64 L456.28,707.39 L458.18,707.16 L460.11,706.93 L462.05,706.69 L464.02,706.45 L466.01,706.20 L468.02,705.94 L470.04,705.68 L472.08,705.40 L474.14,705.13 L476.22,704.84 L478.31,704.54 L480.41,704.24 L482.53,703.93 L484.48,703.63 L486.46,703.33 L488.47,703.01 L490.51,702.68 L492.56,702.35 L494.63,702.01 L496.72,701.67 L498.80,701.31 L500.89,700.96 L502.97,700.60 L505.04,700.24 L507.10,699.88 L509.14,699.52 L511.15,699.17 L513.14,698.81 L515.08,698.46 L517.23,698.06 L519.36,697.67 L521.47,697.27 L523.57,696.86 L525.66,696.46 L527.72,696.05 L529.77,695.65 L531.81,695.24 L533.82,694.84 L535.81,694.44 L537.78,694.04 L539.74,693.65 L541.67,693.27 L543.86,692.83 L546.02,692.39 L548.16,691.96 L550.27,691.54 L552.35,691.11 L554.41,690.69 L556.45,690.27 L558.48,689.85 L560.49,689.44 L562.49,689.02 L564.75,688.54 L566.99,688.07 L569.19,687.60 L571.37,687.13 L573.54,686.66 L575.70,686.20 L577.85,685.73 L580.02,685.27 L582.10,684.83 L584.15,684.40 L586.17,683.97 L588.20,683.54 L590.25,683.11 L592.35,682.67 L594.51,682.20 L596.77,681.71 L598.70,681.29 L600.71,680.86 L602.79,680.41 L604.91,679.95 L607.07,679.49 L609.25,679.01 L611.44,678.53 L613.63,678.04 L615.80,677.54 L617.94,677.05 L620.04,676.55 L622.08,676.05 L624.30,675.50 L626.49,674.94 L628.66,674.38 L630.82,673.82 L632.95,673.24 L635.07,672.67 L637.16,672.08 L639.23,671.49 L641.28,670.89 L643.31,670.27 L645.36,669.64 L647.39,668.99 L649.39,668.34 L651.37,667.68 L653.33,667.01 L655.27,666.33 L657.20,665.65 L659.11,664.95 L661.02,664.24 L663.06,663.47 L665.08,662.69 L667.09,661.90 L669.09,661.10 L671.06,660.29 L673.00,659.47 L674.92,658.63 L676.81,657.79 L678.79,656.87 L680.74,655.95 L682.66,655.01 L684.55,654.06 L686.42,653.09 L688.26,652.10 L690.10,651.09 L691.86,650.10 L693.59,649.09 L695.30,648.07 L697.00,647.02 L698.68,645.96 L700.38,644.88 L702.07,643.77 L703.83,642.60 L705.58,641.41 L707.32,640.19 L709.06,638.96 L710.82,637.69 L712.60,636.40 L714.41,635.08 L716.00,633.92 L717.60,632.73 L719.22,631.52 L720.86,630.29 L722.50,629.04 L724.16,627.78 L725.81,626.51 L727.47,625.23 L729.12,623.96 L730.83,622.64 L732.55,621.31 L734.27,619.97 L735.99,618.63 L737.72,617.27 L739.45,615.91 L741.18,614.55 L742.90,613.18 L744.63,611.80 L746.20,610.55 L747.77,609.29 L749.35,608.02 L750.93,606.75 L752.51,605.47 L754.09,604.19 L755.66,602.91 L757.22,601.63 L758.77,600.35 L760.32,599.07 L762.00,597.67 L763.68,596.28 L765.35,594.88 L767.02,593.48 L768.68,592.08 L770.32,590.68 L771.94,589.27 L773.53,587.86 L775.10,586.44 L776.74,584.91 L778.37,583.39 L779.97,581.86 L781.55,580.32 L783.10,578.78 L784.62,577.23 L786.11,575.67 L787.56,574.10 L789.08,572.39 L790.56,570.68 L792.01,568.96 L793.42,567.23 L794.80,565.49 L796.15,563.73 L797.47,561.97 L798.72,560.24 L799.94,558.50 L801.13,556.75 L802.29,554.99 L803.42,553.22 L804.54,551.45 L805.63,549.67 L806.67,547.93 L807.68,546.18 L808.67,544.43 L809.64,542.67 L810.59,540.91 L811.54,539.14 L812.48,537.37 L813.56,535.30 L814.62,533.22 L815.67,531.14 L816.70,529.05 L817.73,526.97 L818.75,524.88 L819.74,522.83 L820.72,520.77 L821.70,518.72 L822.66,516.66 L823.63,514.60 L824.59,512.54 L825.55,510.49 L826.51,508.43 L827.46,506.38 L828.41,504.32 L829.36,502.27 L830.31,500.21 L831.27,498.14 L832.22,496.08 L833.18,494.01 L834.13,491.95 L835.09,489.88 L836.05,487.82 L837.00,485.77 L837.96,483.71 L838.92,481.66 L839.87,479.61 L840.83,477.55 L841.78,475.49 L842.74,473.42 L843.69,471.35 L844.65,469.28 L845.60,467.20 L846.56,465.13 L847.51,463.06 L848.47,461.00 L849.42,458.94 L850.38,456.89 L851.33,454.83 L852.29,452.78 L853.25,450.72 L854.21,448.67 L855.17,446.62 L856.14,444.57 L857.11,442.53 L858.08,440.48 L859.06,438.43 L860.05,436.36 L861.05,434.29 L862.06,432.21 L863.07,430.14 L864.09,428.07 L865.10,426.00 L866.13,423.93 L867.16,421.86 L868.19,419.79 L869.23,417.73 L870.26,415.66 L871.30,413.60 L872.33,411.54 L873.36,409.49 L874.39,407.44 L875.42,405.39 L876.45,403.34 L877.48,401.29 L878.50,399.23 L879.53,397.16 L880.56,395.10 L881.58,393.04 L882.60,390.97 L883.62,388.91 L884.62,386.85 L885.62,384.80 L886.62,382.75 L887.61,380.70 L888.60,378.65 L889.58,376.59 L890.56,374.53 L891.54,372.47 L892.52,370.40 L893.49,368.34 L894.45,366.27 L895.40,364.20 L896.35,362.14 L897.29,360.07 L898.23,358.00 L899.16,355.93 L900.08,353.87 L900.99,351.80 L901.89,349.75 L902.78,347.70 L903.66,345.65 L904.53,343.59 L905.40,341.54 L906.26,339.48 L907.12,337.42 L907.97,335.36 L908.81,333.30 L909.64,331.23 L910.48,329.17 L911.30,327.10 L912.11,325.05 L912.92,323.00 L913.72,320.95 L914.51,318.90 L915.30,316.85 L916.10,314.80 L916.89,312.74 L917.68,310.67 L918.47,308.61 L919.25,306.54 L920.04,304.47 L920.82,302.41 L921.60,300.34 L922.39,298.27 L923.17,296.20 L923.95,294.14 L924.73,292.07 L925.51,290.00 L926.29,287.95 L927.06,285.90 L927.84,283.84 L928.61,281.79 L929.39,279.74 L930.17,277.69 L930.96,275.63 L931.75,273.56 L932.54,271.50 L933.33,269.43 L934.12,267.37 L934.92,265.31 L935.71,263.25 L936.50,261.20 L937.29,259.15 L938.08,257.10 L938.88,255.04 L939.68,252.99 L940.50,250.92 L941.31,248.85 L942.14,246.78 L942.97,244.71 L943.80,242.64 L944.65,240.58 L945.51,238.52 L946.37,236.46 L947.25,234.40 L948.13,232.35 L949.02,230.30 L949.92,228.25 L950.84,226.20 L951.77,224.14 L952.71,222.09 L953.65,220.04 L954.61,217.99 L955.57,215.93 L956.54,213.86 L957.53,211.77 L958.52,209.69 L959.51,207.61 L960.51,205.53 L961.50,203.45 L962.49,201.39 L963.48,199.32 L964.46,197.25 L965.45,195.18 L966.45,193.12 L967.45,191.06 L968.45,189.00 L969.46,186.95 L970.46,184.89 L971.48,182.84 L972.52,180.79 L973.58,178.76 L974.52,176.99 L975.46,175.24 L976.42,173.48 L977.39,171.73 L978.38,169.99 L979.40,168.25 L980.45,166.52 L981.56,164.74 L982.70,162.98 L983.86,161.22 L985.04,159.46 L986.26,157.71 L987.50,155.97 L988.76,154.22 L989.94,152.64 L991.14,151.06 L992.37,149.49 L993.61,147.92 L994.88,146.35 L996.17,144.79 L997.47,143.24 L998.79,141.70 L1000.16,140.12 L1001.56,138.56 L1002.98,137.00 L1004.42,135.45 L1005.87,133.90 L1007.33,132.36 L1008.81,130.83 L1010.29,129.30 L1011.80,127.76 L1013.31,126.23 L1014.84,124.70 L1016.37,123.18 L1017.93,121.66 L1019.49,120.15 L1021.08,118.63 L1022.69,117.12 L1024.20,115.70 L1025.73,114.29 L1027.27,112.88 L1028.84,111.46 L1030.41,110.05 L1031.99,108.65 L1033.58,107.25 L1035.18,105.86 L1036.77,104.48 L1038.39,103.10 L1040.01,101.73 L1041.64,100.38 L1043.28,99.03 L1044.92,97.68 L1046.57,96.34 L1048.22,95.00 L1049.86,93.65 L1051.50,92.30" fill="none" stroke="#d64242" stroke-width="3.6" stroke-linecap="round" stroke-linejoin="round"/>
</g></g>
<text x="135.6" y="721.55" text-anchor="end" class="n">0</text>
<text x="135.6" y="659.73" text-anchor="end" class="n">10</text>
<text x="135.6" y="597.91" text-anchor="end" class="n">20</text>
<text x="135.6" y="536.09" text-anchor="end" class="n">30</text>
<text x="135.6" y="474.27" text-anchor="end" class="n">40</text>
<text x="135.6" y="412.45" text-anchor="end" class="n">50</text>
<text x="135.6" y="350.63" text-anchor="end" class="n">60</text>
<text x="135.6" y="288.81" text-anchor="end" class="n">70</text>
<text x="135.6" y="226.99" text-anchor="end" class="n">80</text>
<text x="135.6" y="165.17" text-anchor="end" class="n">90</text>
<text x="135.6" y="103.35" text-anchor="end" class="n">100</text>
<text x="166.30" y="765.6" text-anchor="middle" class="n">1</text>
<text x="434.45" y="765.6" text-anchor="middle" class="n">10</text>
<text x="702.60" y="765.6" text-anchor="middle" class="n">100</text>
<text x="970.75" y="765.6" text-anchor="middle" class="n">1000</text>
<text x="1238.90" y="765.6" text-anchor="middle" class="n">10000</text>
<line x1="213.60" y1="31.4" x2="256.10" y2="31.4" stroke="#1a75bf" stroke-width="3.6" stroke-linecap="round"/>
<text x="260.70" y="41.5" textLength="102.19" lengthAdjust="spacingAndGlyphs" class="b">PSD PC</text>
<line x1="386.20" y1="31.4" x2="427.70" y2="31.4" stroke="#1a75bf" stroke-width="3.6" stroke-linecap="round" stroke-dasharray="8.4 8.1"/>
<text x="433.35" y="41.5" textLength="185.79" lengthAdjust="spacingAndGlyphs" class="b">PSD PC - RRD</text>
<line x1="653.30" y1="31.4" x2="695.10" y2="31.4" stroke="#d64242" stroke-width="3.6" stroke-linecap="round"/>
<text x="699.31" y="41.5" textLength="179.77" lengthAdjust="spacingAndGlyphs" class="b">PSD Bio-coal</text>
<line x1="903.50" y1="31.4" x2="944.80" y2="31.4" stroke="#d64242" stroke-width="3.6" stroke-linecap="round" stroke-dasharray="8.4 8.1"/>
<text x="948.76" y="41.5" textLength="264.88" lengthAdjust="spacingAndGlyphs" class="b">PSD Bio-coal - RRD</text>
<text x="544.07" y="829.0" textLength="352.75" lengthAdjust="spacingAndGlyphs" class="b">Particle diameter, d [µm]</text>
<text transform="translate(46.4,523.02) rotate(-90)" x="0" y="0" textLength="342.64" lengthAdjust="spacingAndGlyphs" class="b">Mass fraction [wt.%] &lt; d</text>
</g>
</svg>
</body></html>
